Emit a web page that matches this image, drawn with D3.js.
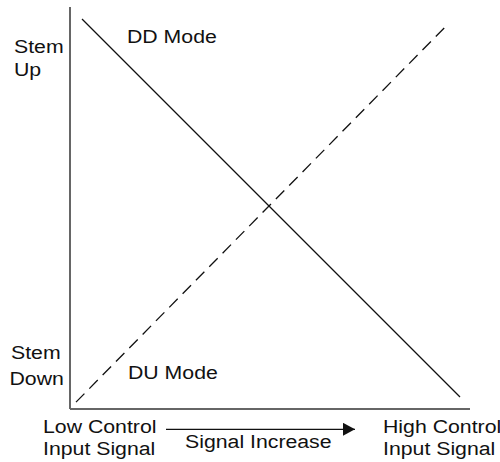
<!DOCTYPE html>
<html>
<head>
<meta charset="utf-8">
<script src="https://cdn.jsdelivr.net/npm/d3@7"></script>
<style>
html,body{margin:0;padding:0;background:#fff;}
svg{display:block;}
text{font-family:"Liberation Sans",Arial,Helvetica,sans-serif;font-size:19px;fill:#111;}
</style>
</head>
<body>
<script>
// ---- data ----
const modeNames = ["DD Mode", "DU Mode"];
const ddX = [0.03, 0.975];
const ddY = [0.97, 0.03];
const duX = [0.015, 0.9475];
const duY = [0.017, 0.96];
const yLabelTop = ["Stem", "Up"];
const yLabelBottom = ["Stem", "Down"];
const xLabelLow = ["Low Control", "Input Signal"];
const xLabelHigh = ["High Control", "Input Signal"];
const arrowLabel = "Signal Increase";

const W = 500, H = 462;
const svg = d3.select("body").append("svg").attr("width", W).attr("height", H);

const x = d3.scaleLinear().domain([0, 1]).range([70, 470]);
const y = d3.scaleLinear().domain([0, 1]).range([409, 7]);

// axes
svg.append("line").attr("x1", x(0)).attr("x2", x(0)).attr("y1", y(1)).attr("y2", y(0))
  .attr("stroke", "#333").attr("stroke-width", 1.5);
svg.append("line").attr("x1", x(0)).attr("x2", x(1)).attr("y1", y(0)).attr("y2", y(0))
  .attr("stroke", "#666").attr("stroke-width", 2);

const line = d3.line().x(d => x(d[0])).y(d => y(d[1]));
svg.append("path").datum(d3.zip(ddX, ddY)).attr("d", line)
  .attr("fill", "none").attr("stroke", "#111").attr("stroke-width", 1.3);
svg.append("path").datum(d3.zip(duX, duY)).attr("d", line)
  .attr("fill", "none").attr("stroke", "#111").attr("stroke-width", 1.3)
  .attr("stroke-dasharray", "12,7");

const sx = 1.12;
// multi-line label: lines = array of strings, offsets = per-line [dx, dy] relative to first baseline
function label(lines, px, py, offsets) {
  const t = svg.append("text").attr("transform", `translate(${px},${py}) scale(${sx},1)`);
  lines.forEach((s, i) => {
    const o = offsets ? offsets[i] : [0, 0];
    t.append("tspan").attr("x", o[0] / sx).attr("y", o[1]).text(s);
  });
}
label([modeNames[0]], 127, 42.5);
label([modeNames[1]], 128, 378.5);
label(yLabelTop, 14, 52.7, [[0, 0], [0, 23]]);
label(yLabelBottom, 11, 359.3, [[0, 0], [-1.5, 25.7]]);
label(xLabelLow, 43, 433.3, [[0, 0], [0, 21.4]]);
label(xLabelHigh, 383, 433.3, [[0, 0], [0, 21.4]]);
label([arrowLabel], 185, 448.3);

// arrow
svg.append("defs").append("marker").attr("id", "ah")
  .attr("viewBox", "0 0 12 13").attr("refX", 12).attr("refY", 6.5)
  .attr("markerWidth", 12).attr("markerHeight", 13).attr("markerUnits", "userSpaceOnUse")
  .attr("orient", "auto")
  .append("path").attr("d", "M0,0 L12,6.5 L0,13 Z").attr("fill", "#111");
svg.append("line").attr("x1", 166).attr("x2", 355).attr("y1", 429.3).attr("y2", 429.3)
  .attr("stroke", "#111").attr("stroke-width", 1.3).attr("marker-end", "url(#ah)");
</script>
</body>
</html>
